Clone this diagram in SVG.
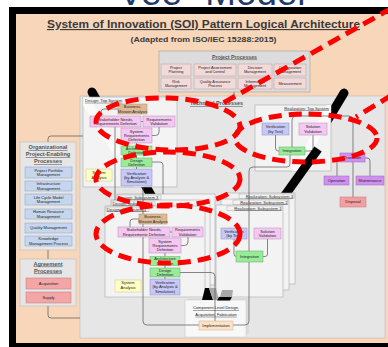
<svg xmlns="http://www.w3.org/2000/svg" width="388" height="347" viewBox="0 0 388 347">
<style>
.t{font-family:'Liberation Sans',Arial,sans-serif;fill:#222;text-anchor:middle;font-size:4px}
.p3{font-size:3.8px}
.lb{font-family:'Liberation Sans',Arial,sans-serif;fill:#333;font-size:4.2px;text-decoration:underline}
.hd{font-family:'Liberation Sans',Arial,sans-serif;fill:#555;font-weight:bold;text-anchor:middle;text-decoration:underline}
.pk{fill:#f4c8f2;stroke:#b48ab4;stroke-width:.5}
.gr{fill:#98ec98;stroke:#6aa86a;stroke-width:.5}
.lv{fill:#c8c8f6;stroke:#8c8cc0;stroke-width:.5}
.tn{fill:#deba94;stroke:#a88a6a;stroke-width:.5}
.yl{fill:#ffffc4;stroke:#c8c890;stroke-width:.5}
.bl{fill:#c6d6ee;stroke:#8aa0c0;stroke-width:.5}
.rd{fill:#f4a6a6;stroke:#c07878;stroke-width:.5}
.pp{fill:#f3dada;stroke:#b89a9a;stroke-width:.5}
.pu{fill:#d090f0;stroke:#9a60b8;stroke-width:.5}
.ds{fill:#f4a0a0;stroke:#c07878;stroke-width:.5}
.im{fill:#fde2c8;stroke:#d0b090;stroke-width:.5}
.pn{fill:#f3f3f3;stroke:#aaa;stroke-width:.6}
.gp{fill:#e6e6e6;stroke:#bbb;stroke-width:.6}
.lbx{fill:#f2f2f2;stroke:#999;stroke-width:.4}
.ln{fill:none;stroke:#555;stroke-width:.7}
.arm{stroke:#000;stroke-width:9;fill:none}
.stripe{stroke:#fff;stroke-opacity:.65;stroke-width:9;fill:none}
.rdash{fill:none;stroke:#f00;stroke-width:5;stroke-dasharray:13 7}
</style>
<defs>
<clipPath id="cpD"><rect x="83" y="97" width="94" height="90"/></clipPath>
<clipPath id="cpR"><rect x="255" y="105" width="76" height="66"/></clipPath>
</defs>
<rect x="0" y="0" width="388" height="347" fill="#fff"/>
<text x="212" y="5" font-family="'Liberation Sans',Arial,sans-serif" font-size="36" fill="#1f3a68" text-anchor="middle" textLength="187" lengthAdjust="spacingAndGlyphs">Vee" Model</text>
<rect x="9" y="7" width="390" height="345" fill="#000"/>
<rect x="16" y="14" width="372" height="329" fill="#f8d6ba"/>
<text x="203.5" y="28" font-family="'Liberation Sans',Arial,sans-serif" font-size="11.5" font-weight="bold" fill="#3a3a3a" text-anchor="middle" text-decoration="underline" textLength="313" lengthAdjust="spacingAndGlyphs">System of Innovation (SOI) Pattern Logical Architecture</text>
<text x="203.5" y="41.5" font-family="'Liberation Sans',Arial,sans-serif" font-size="7.4" font-weight="bold" fill="#3a3a3a" text-anchor="middle" textLength="146" lengthAdjust="spacingAndGlyphs">(Adapted from ISO/IEC 15288:2015)</text>

<g id="project-processes">
<rect x="159" y="51" width="151" height="41" fill="#dcdcdc" stroke="#a0a0a0" stroke-width=".6"/>
<text class="hd" x="234.5" y="58.5" font-size="5.2">Project Processes</text>
<rect class="pp" x="161" y="64" width="30" height="12"/><text class="t p3" x="176" y="69.3">Project<tspan x="176" y="73.3">Planning</tspan></text>
<rect class="pp" x="194" y="64" width="42" height="12"/><text class="t p3" x="215" y="69.3">Project Assessment<tspan x="215" y="73.3">and Control</tspan></text>
<rect class="pp" x="238" y="64" width="34" height="12"/><text class="t p3" x="255" y="69.3">Decision<tspan x="255" y="73.3">Management</tspan></text>
<rect class="pp" x="274" y="64" width="32" height="12"/><text class="t p3" x="290" y="69.3">Configuration<tspan x="290" y="73.3">Management</tspan></text>
<rect class="pp" x="161" y="78" width="30" height="11"/><text class="t p3" x="176" y="82.8">Risk<tspan x="176" y="86.8">Management</tspan></text>
<rect class="pp" x="194" y="78" width="42" height="11"/><text class="t p3" x="215" y="82.8">Quality Assurance<tspan x="215" y="86.8">Process</tspan></text>
<rect class="pp" x="238" y="78" width="34" height="11"/><text class="t p3" x="255" y="82.8">Information<tspan x="255" y="86.8">Management</tspan></text>
<rect class="pp" x="274" y="78" width="32" height="11"/><text class="t p3" x="290" y="84.8">Measurement</text>
</g>

<g id="technical-processes">
<rect class="gp" x="80" y="96" width="305" height="242"/>
<text class="hd" x="216.5" y="105" font-size="5.4">Technical Processes</text>
</g>

<g id="v-arms-under">
<line class="arm" x1="92" y1="92" x2="152" y2="197" stroke-linecap="round"/>
<line class="arm" x1="344" y1="93" x2="300" y2="166" stroke-linecap="round"/>
</g>

<g id="design-top-system">
<rect class="pn" x="83" y="97" width="94" height="90"/>
<line class="stripe" x1="82" y1="95" x2="140" y2="189" clip-path="url(#cpD)"/>
<text class="lb" x="85" y="101.8">Design: Top System</text>
</g>

<g id="realization-top-system">
<rect class="pn" x="255" y="105" width="76" height="66"/>
<line class="stripe" x1="333" y1="103" x2="296" y2="173" clip-path="url(#cpR)"/>
<text class="lb" x="329" y="109.5" text-anchor="end">Realization: Top System</text>
</g>

<g id="v-arm-right-lower">
<line class="arm" x1="318" y1="149" x2="283" y2="198"/>
</g>

<g id="design-subsystems">
<rect class="pn" x="117" y="194" width="98" height="91"/>
<rect class="lbx" x="118" y="195" width="43" height="4.6"/>
<text class="lb" x="118.8" y="198.5">Design: Subsystem 3</text>
<rect class="pn" x="111" y="200" width="99" height="91"/>
<rect class="lbx" x="112" y="201" width="43" height="4.6"/>
<text class="lb" x="112.8" y="204.5">Design: Subsystem 2</text>
<rect class="pn" x="105" y="206" width="100" height="91"/>
<rect class="lbx" x="106" y="207" width="43" height="4.6"/>
<text class="lb" x="106.8" y="210.5">Design: Subsystem 1</text>
</g>

<g id="realization-subsystems">
<rect class="pn" x="226" y="193" width="69" height="91"/>
<rect class="lbx" x="239" y="194" width="55" height="4.6"/>
<text class="lb" x="293" y="197.5" text-anchor="end">Realization: Subsystem 3</text>
<rect class="pn" x="221" y="199" width="68" height="91"/>
<rect class="lbx" x="233" y="200" width="55" height="4.6"/>
<text class="lb" x="287.5" y="203.5" text-anchor="end">Realization: Subsystem 2</text>
<rect class="pn" x="216" y="205" width="67" height="92"/>
<rect class="lbx" x="227" y="206" width="55" height="4.6"/>
<text class="lb" x="281.5" y="209.5" text-anchor="end">Realization: Subsystem 1</text>
</g>

<g id="component-level">
<rect x="188" y="297" width="61" height="37" fill="#dcdcdc"/>
<rect x="185" y="300" width="61" height="37" fill="#f8f8f8" stroke="#ccc" stroke-width=".6"/>
<text class="t" x="216" y="309.3" font-size="4.3" text-decoration="underline">Component Level Design,</text>
<text class="t" x="216" y="315.8" font-size="4.3" text-decoration="underline">Acquisition, Fabrication</text>
<polygon points="205,288 209,288 213,300 202,300" fill="#000"/>
<polygon points="209,288 216,288 219,300 213,300" fill="#a8a8a8"/>
<polygon points="222,290 233,290 232,297 220,297" fill="#a8a8a8"/>
<polygon points="219,297 232,297 230,300.5 217,300.5" fill="#000"/>
</g>

<g id="connectors">
<path class="ln" d="M234,92 V96"/>
<path class="ln" d="M48,142 V139 Q48,136 51,136 H83"/>
<path class="ln" d="M48,250 V259"/>
<path class="ln" d="M48,306 V315 Q48,318 51,318 H80"/>
<path class="ln" d="M118,109 H104 Q101,109 101,112 V116"/>
<path class="ln" d="M141,121.5 H143"/>
<path class="ln" d="M159,127 V132 Q159,135.5 155.5,135.5 H152"/>
<path class="ln" d="M136.5,143 V146 M136.5,155 V158 M136.5,167 V169"/>
<path class="ln" d="M115,127 V200"/>
<path class="ln" d="M152,162 H160 Q163,162 163,165 V194"/>
<path class="ln" d="M143,187 V321 Q143,325 147,325 H199"/>
<path class="ln" d="M139,219 H133 Q130,219 130,222 V227"/>
<path class="ln" d="M170,232 H172"/>
<path class="ln" d="M188,237 V242 Q188,245.5 184.5,245.5 H181"/>
<path class="ln" d="M165,253 V256.5 M165,265.5 V268 M165,277 V279"/>
<path class="ln" d="M180,272.5 H211 Q215,272.5 215,276.5 V321"/>
<path class="ln" d="M275.5,135 V148 Q275.5,151 278.5,151 H279"/>
<path class="ln" d="M313,135 V148 Q313,151 310,151 H305"/>
<path class="ln" d="M292,147 V120 Q292,116 296,116 H349 Q353,116 353,120 V197"/>
<path class="ln" d="M290,155 V164 Q290,167 287,167 H253 Q249,167 249,171 V321 Q249,325 245,325 H233"/>
<path class="ln" d="M340,158 H340 Q337,158 337,161 V176"/>
<path class="ln" d="M365,158 H367 Q370,158 370,161 V176"/>
<path class="ln" d="M234,239 V254 Q234,256.5 236.5,256.5"/>
<path class="ln" d="M267.5,239 V254 Q267.5,256.5 265,256.5 H263"/>
</g>

<g id="dt-business"><rect class="tn" x="118" y="104" width="29" height="10"/><text class="t" x="132.5" y="108.3">Business,<tspan x="132.5" y="112.5">Mission Analysis</tspan></text></g>
<g id="dt-stakeholder"><rect class="pk" x="90" y="116" width="51" height="11"/><text class="t" x="115.5" y="120.8">Stakeholder Needs,<tspan x="115.5" y="125">Requirements Definition</tspan></text></g>
<g id="dt-reqval"><rect class="pk" x="143" y="116" width="32" height="11"/><text class="t" x="159" y="120.8">Requirements<tspan x="159" y="125">Validation</tspan></text></g>
<g id="dt-sysreq"><rect class="pk" x="121" y="128" width="31" height="15"/><text class="t" x="136.5" y="132.7">System<tspan x="136.5" y="136.9">Requirements</tspan><tspan x="136.5" y="141.1">Definition</tspan></text></g>
<g id="dt-arch"><rect class="gr" x="121" y="146" width="31" height="9"/><text class="t" x="136.5" y="149.8">Architecture<tspan x="136.5" y="154">Definition</tspan></text></g>
<g id="dt-design"><rect class="gr" x="121" y="158" width="31" height="9"/><text class="t" x="136.5" y="161.8">Design<tspan x="136.5" y="166">Definition</tspan></text></g>
<g id="dt-verif"><rect class="lv" x="121" y="169" width="31" height="17"/><text class="t" x="136.5" y="174.7">Verification<tspan x="136.5" y="178.9">(by Analysis &amp;</tspan><tspan x="136.5" y="183.1">Simulation)</tspan></text></g>
<g id="dt-sysan"><rect class="yl" x="86" y="169" width="26" height="12"/><text class="t" x="99" y="174.3">System<tspan x="99" y="178.5">Analysis</tspan></text></g>

<g id="ds-business"><rect class="tn" x="139" y="214" width="28" height="10"/><text class="t" x="153" y="218.3">Business,<tspan x="153" y="222.5">Mission Analysis</tspan></text></g>
<g id="ds-stakeholder"><rect class="pk" x="118" y="227" width="52" height="10"/><text class="t" x="144" y="231.3">Stakeholder Needs,<tspan x="144" y="235.5">Requirements Definition</tspan></text></g>
<g id="ds-reqval"><rect class="pk" x="172" y="227" width="31" height="10"/><text class="t" x="187.5" y="231.3">Requirements<tspan x="187.5" y="235.5">Validation</tspan></text></g>
<g id="ds-sysreq"><rect class="pk" x="149" y="238" width="32" height="15"/><text class="t" x="165" y="242.7">System<tspan x="165" y="246.9">Requirements</tspan><tspan x="165" y="251.1">Definition</tspan></text></g>
<g id="ds-arch"><rect class="gr" x="150" y="256.5" width="30" height="9"/><text class="t" x="165" y="260.3">Architecture<tspan x="165" y="264.5">Definition</tspan></text></g>
<g id="ds-design"><rect class="gr" x="150" y="268" width="30" height="9"/><text class="t" x="165" y="271.8">Design<tspan x="165" y="276">Definition</tspan></text></g>
<g id="ds-verif"><rect class="lv" x="150" y="279" width="30" height="16"/><text class="t" x="165" y="284.2">Verification<tspan x="165" y="288.4">(by Analysis &amp;</tspan><tspan x="165" y="292.6">Simulation)</tspan></text></g>
<g id="ds-sysan"><rect class="yl" x="115" y="280" width="26" height="12"/><text class="t" x="128" y="284.3">System<tspan x="128" y="288.5">Analysis</tspan></text></g>

<g id="rt-verif"><rect class="lv" x="262" y="123" width="27" height="12"/><text class="t" x="275.5" y="128.3">Verification<tspan x="275.5" y="132.5">(by Test)</tspan></text></g>
<g id="rt-solval"><rect class="pk" x="299" y="123" width="28" height="12"/><text class="t" x="313" y="128.3">Solution<tspan x="313" y="132.5">Validation</tspan></text></g>
<g id="rt-integ"><rect class="gr" x="279" y="147" width="26" height="8"/><text class="t" x="292" y="152.4">Integration</text></g>

<g id="rs-verif"><rect class="lv" x="221" y="228" width="26" height="11"/><text class="t" x="234" y="232.8">Verification<tspan x="234" y="237">(by Test)</tspan></text></g>
<g id="rs-solval"><rect class="pk" x="254" y="228" width="27" height="11"/><text class="t" x="267.5" y="232.8">Solution<tspan x="267.5" y="237">Validation</tspan></text></g>
<g id="rs-integ"><rect class="gr" x="236" y="251" width="27" height="11"/><text class="t" x="249.5" y="257.9">Integration</text></g>

<g id="transition"><rect class="pu" x="340" y="153" width="25" height="9"/><text class="t" x="352.5" y="158.9">Transition</text></g>
<g id="operation"><rect class="pu" x="324" y="176" width="25" height="9"/><text class="t" x="336.5" y="181.9">Operation</text></g>
<g id="maintenance"><rect class="pu" x="356" y="176" width="28" height="9"/><text class="t" x="370" y="181.9">Maintenance</text></g>
<g id="disposal"><rect class="ds" x="340" y="197" width="26" height="10"/><text class="t" x="353" y="203.4">Disposal</text></g>
<g id="implementation"><rect class="im" x="199" y="321" width="34" height="9"/><text class="t" x="216" y="326.9">Implementation</text></g>

<g id="org-enabling">
<rect class="gp" x="20" y="142" width="56" height="108"/>
<text class="hd" x="48" y="149" font-size="5.6" font-weight="normal">Organizational</text>
<text class="hd" x="48" y="156" font-size="5.6" font-weight="normal">Project-Enabling</text>
<text class="hd" x="48" y="163" font-size="5.6" font-weight="normal">Processes</text>
<rect class="bl" x="25" y="167" width="47" height="11"/><text class="t" x="48.5" y="171.8">Project Portfolio<tspan x="48.5" y="176">Management</tspan></text>
<rect class="bl" x="25" y="181" width="47" height="10"/><text class="t" x="48.5" y="185.3">Infrastructure<tspan x="48.5" y="189.5">Management</tspan></text>
<rect class="bl" x="25" y="194" width="47" height="11"/><text class="t" x="48.5" y="198.8">Life Cycle Model<tspan x="48.5" y="203">Management</tspan></text>
<rect class="bl" x="25" y="209" width="47" height="10"/><text class="t" x="48.5" y="213.3">Human Resource<tspan x="48.5" y="217.5">Management</tspan></text>
<rect class="bl" x="25" y="223" width="47" height="10"/><text class="t" x="48.5" y="229.4">Quality Management</text>
<rect class="bl" x="25" y="236" width="47" height="10"/><text class="t" x="48.5" y="240.3">Knowledge<tspan x="48.5" y="244.5">Management Process</tspan></text>
</g>

<g id="agreement">
<rect class="gp" x="20" y="259" width="56" height="47"/>
<text class="hd" x="48" y="265.5" font-size="5.6" font-weight="normal">Agreement</text>
<text class="hd" x="48" y="272.5" font-size="5.6" font-weight="normal">Processes</text>
<rect class="rd" x="26" y="278" width="45" height="11"/><text class="t" x="48.5" y="284.9">Acquisition</text>
<rect class="rd" x="26" y="292" width="45" height="11"/><text class="t" x="48.5" y="298.9">Supply</text>
</g>

<g id="red-highlights">
<ellipse class="rdash" cx="168" cy="124" rx="72" ry="26" transform="rotate(2 168 124)"/>
<ellipse class="rdash" cx="306" cy="138" rx="71" ry="24"/>
<ellipse class="rdash" cx="168" cy="179" rx="72" ry="27"/>
<ellipse class="rdash" cx="168" cy="234" rx="72" ry="29"/>
<path class="rdash" d="M392,8 L216,107"/>
<path class="rdash" d="M392,95 L356,117"/>
</g>
</svg>
